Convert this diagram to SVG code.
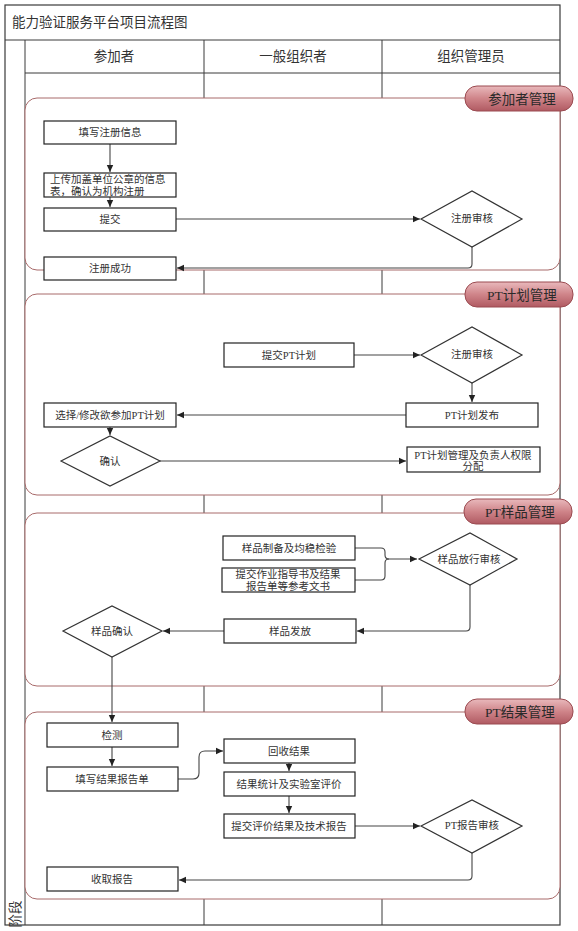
<svg xmlns="http://www.w3.org/2000/svg" width="578" height="931" viewBox="0 0 578 931">
<defs>
<style>
.frame{fill:none;stroke:#3a3a3a;stroke-width:1.2}
.lane{stroke:#3a3a3a;stroke-width:1}
.phase{fill:#fff;stroke:#a86a6a;stroke-width:1}
.pill{fill:url(#pg);stroke:#9a4a50;stroke-width:1}
.box{fill:#fff;stroke:#222;stroke-width:1.2}
.dia{fill:#fff;stroke:#333;stroke-width:1.2}
.t{font-family:"Liberation Serif","Noto Sans CJK SC",serif;font-size:10.5px;fill:#333;text-anchor:middle;dominant-baseline:central}
.h{font-family:"Liberation Serif","Noto Sans CJK SC",serif;font-size:13.5px;fill:#333;text-anchor:middle;dominant-baseline:central}
.pt{font-family:"Liberation Serif","Noto Sans CJK SC",serif;font-size:13.5px;fill:#2a2a2a;text-anchor:middle;dominant-baseline:central}
.c{fill:none;stroke:#444;stroke-width:1.1;marker-end:url(#ah)}
</style>
<linearGradient id="pg" x1="0" y1="0" x2="0" y2="1">
<stop offset="0" stop-color="#e9b9bc"/>
<stop offset="0.5" stop-color="#cf8489"/>
<stop offset="1" stop-color="#b05a62"/>
</linearGradient>
<marker id="ah" markerWidth="8" markerHeight="8" refX="7" refY="4" orient="auto" markerUnits="userSpaceOnUse">
<path d="M0,0.8 L7,4 L0,7.2 Z" fill="#222"/>
</marker>
</defs>
<rect width="578" height="931" fill="#fff"/>

<g id="frame">
<rect x="5" y="5" width="555" height="920" class="frame"/>
<line x1="5" y1="40" x2="560" y2="40" class="lane"/>
<line x1="25" y1="40" x2="25" y2="925" class="lane"/>
<line x1="204" y1="40" x2="204" y2="925" class="lane"/>
<line x1="382" y1="40" x2="382" y2="925" class="lane"/>
<line x1="25" y1="73" x2="560" y2="73" class="lane"/>
<text x="12" y="22" class="h" style="text-anchor:start">能力验证服务平台项目流程图</text>
<text x="114" y="56" class="h">参加者</text>
<text x="293" y="56" class="h">一般组织者</text>
<text x="471" y="56" class="h">组织管理员</text>
<text x="15" y="914" class="h" transform="rotate(-90 15 914)">阶段</text>
</g>

<g id="phase1">
<rect x="25" y="98" width="535" height="172" rx="12" class="phase"/>
<rect x="465" y="86" width="108" height="25" rx="12" class="pill"/>
<text x="522" y="99" class="pt">参加者管理</text>
</g>
<g id="phase2">
<rect x="25" y="294" width="535" height="201" rx="12" class="phase"/>
<rect x="465" y="282" width="108" height="25" rx="12" class="pill"/>
<text x="522" y="295" class="pt">PT计划管理</text>
</g>
<g id="phase3">
<rect x="25" y="513" width="535" height="173" rx="12" class="phase"/>
<rect x="464" y="499" width="108" height="25" rx="12" class="pill"/>
<text x="520" y="512" class="pt">PT样品管理</text>
</g>
<g id="phase4">
<rect x="25" y="712" width="535" height="187" rx="12" class="phase"/>
<rect x="465" y="699" width="108" height="25" rx="12" class="pill"/>
<text x="520" y="712" class="pt">PT结果管理</text>
</g>

<g id="connectors">
<path d="M110,144 V172" class="c"/>
<path d="M110,197 V207" class="c"/>
<path d="M176,219 H420" class="c"/>
<path d="M472,247 V264 Q472,268 468,268 H177" class="c"/>
<path d="M354,355 H420" class="c"/>
<path d="M472,383 V402" class="c"/>
<path d="M406,415 H177" class="c"/>
<path d="M110,427 V435" class="c"/>
<path d="M160,461 H406" class="c"/>
<path d="M355,548 H381 Q385,548 385,552 V555 Q385,559 389,559 H417" class="c"/>
<path d="M355,580 H381 Q385,580 385,576 V563 Q385,559 389,559" style="fill:none;stroke:#444;stroke-width:1.1"/>
<path d="M470,585 V627 Q470,631 466,631 H357" class="c"/>
<path d="M224,631 H163" class="c"/>
<path d="M112,657 V722" class="c"/>
<path d="M112,747 V766" class="c"/>
<path d="M178,779 H193 Q199,779 199,773 V757 Q199,751 205,751 H223" class="c"/>
<path d="M289,763 V771" class="c"/>
<path d="M289,796 V813" class="c"/>
<path d="M355,826 H420" class="c"/>
<path d="M472,853 V876 Q472,880 468,880 H179" class="c"/>
</g>

<g id="n1"><rect x="44" y="121" width="132" height="23" class="box"/><text x="110" y="132.5" class="t">填写注册信息</text></g>
<g id="n2"><rect x="44" y="173" width="132" height="24" class="box"/><text x="50" y="179" class="t" style="text-anchor:start">上传加盖单位公章的信息</text><text x="50" y="191" class="t" style="text-anchor:start">表，确认为机构注册</text></g>
<g id="n3"><rect x="44" y="208" width="132" height="23" class="box"/><text x="110" y="219.5" class="t">提交</text></g>
<g id="d1"><polygon points="421,219 472,191 522,219 472,247" class="dia"/><text x="472" y="218" class="t">注册审核</text></g>
<g id="n4"><rect x="44" y="257" width="132" height="23" class="box"/><text x="110" y="268.5" class="t">注册成功</text></g>

<g id="n5"><rect x="224" y="343" width="130" height="24" class="box"/><text x="289" y="355" class="t">提交PT计划</text></g>
<g id="d2"><polygon points="421,355 472,327 522,355 472,383" class="dia"/><text x="472" y="354" class="t">注册审核</text></g>
<g id="n6"><rect x="406" y="403" width="132" height="24" class="box"/><text x="472" y="415" class="t">PT计划发布</text></g>
<g id="n7"><rect x="44" y="403" width="132" height="24" class="box"/><text x="110" y="415" class="t">选择/修改欲参加PT计划</text></g>
<g id="d3"><polygon points="61,461 110,436 160,461 110,486" class="dia"/><text x="110" y="461" class="t">确认</text></g>
<g id="n8"><rect x="407" y="447" width="133" height="25" class="box"/><text x="473" y="455" class="t">PT计划管理及负责人权限</text><text x="473" y="466" class="t">分配</text></g>

<g id="n9"><rect x="223" y="536" width="132" height="24" class="box"/><text x="289" y="548" class="t">样品制备及均稳检验</text></g>
<g id="n10"><rect x="222" y="568" width="133" height="24" class="box"/><text x="288" y="574" class="t">提交作业指导书及结果</text><text x="288" y="586" class="t">报告单等参考文书</text></g>
<g id="d4"><polygon points="419,559 470,533 517,559 470,585" class="dia"/><text x="469" y="559" class="t">样品放行审核</text></g>
<g id="n11"><rect x="224" y="619" width="132" height="24" class="box"/><text x="290" y="631" class="t">样品发放</text></g>
<g id="d5"><polygon points="63,631 112,606 162,631 112,657" class="dia"/><text x="112" y="631" class="t">样品确认</text></g>

<g id="n12"><rect x="47" y="723" width="131" height="24" class="box"/><text x="112" y="735" class="t">检测</text></g>
<g id="n13"><rect x="47" y="767" width="131" height="24" class="box"/><text x="112" y="779" class="t">填写结果报告单</text></g>
<g id="n14"><rect x="224" y="739" width="131" height="24" class="box"/><text x="289" y="751" class="t">回收结果</text></g>
<g id="n15"><rect x="224" y="772" width="131" height="24" class="box"/><text x="289" y="784" class="t">结果统计及实验室评价</text></g>
<g id="n16"><rect x="224" y="814" width="131" height="24" class="box"/><text x="289" y="826" class="t">提交评价结果及技术报告</text></g>
<g id="d6"><polygon points="421,826 472,800 522,826 472,853" class="dia"/><text x="472" y="825" class="t">PT报告审核</text></g>
<g id="n17"><rect x="47" y="867" width="131" height="24" class="box"/><text x="112" y="879" class="t">收取报告</text></g>
</svg>
